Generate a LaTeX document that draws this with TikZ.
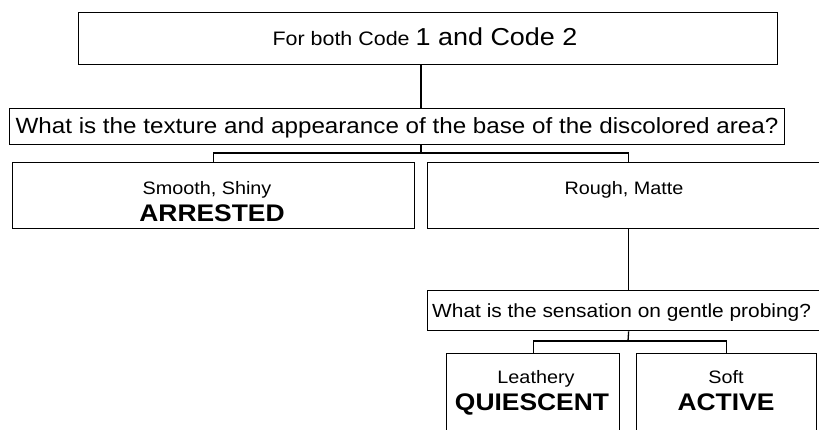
\documentclass[tikz,border=0pt]{standalone}
\usepackage{fontspec}
\setmainfont{Liberation Sans}[FakeStretch=1.1]
\begin{document}
\begin{tikzpicture}[x=1pt, y=-1pt,
    boxstyle/.style={draw, line width=1.3pt, anchor=north west, inner sep=0pt},
    txtstyle/.style={inner sep=0pt, anchor=base, font=\fontsize{18}{20}\selectfont},
    bigstyle/.style={inner sep=0pt, anchor=base, font=\fontsize{24}{26}\selectfont\bfseries},
    qstyle/.style={inner sep=0pt, font=\fontsize{22}{24}\selectfont},
    linestyle/.style={line width=1.3pt}]
\useasboundingbox (0,0) rectangle (819,430);
\clip (0,0) rectangle (819,430);

% boxes
\node[boxstyle, minimum width=699pt, minimum height=52pt] (top) at (78,12) {};
\node[boxstyle, minimum width=775pt, minimum height=36pt] (q1) at (9,108) {};
\node[boxstyle, minimum width=402pt, minimum height=66pt] (smooth) at (12,162) {};
\node[boxstyle, minimum width=402pt, minimum height=66pt] (rough) at (427,162) {};
\node[boxstyle, minimum width=402pt, minimum height=40pt] (q2) at (427,290) {};
\node[boxstyle, minimum width=173pt, minimum height=100pt] (leathery) at (446,353) {};
\node[boxstyle, minimum width=180pt, minimum height=100pt] (soft) at (636,353) {};

% texts
\node[txtstyle, font=\fontsize{19.5}{22}\selectfont] (toptxt) at (425,46) {For both Code {\fontsize{24.5}{26}\selectfont 1 and Code 2}};
\node[qstyle, anchor=base] (q1txt) at (397,134) {What is the texture and appearance of the base of the discolored area?};
\node[txtstyle] (smoothtxt) at (207,195) {Smooth, Shiny};
\node[bigstyle] (arrested) at (212,222) {ARRESTED};
\node[txtstyle] (roughtxt) at (624,195) {Rough, Matte};
\node[qstyle, anchor=base west, font=\fontsize{19}{22}\selectfont] (q2txt) at (432,317) {What is the sensation on gentle probing?};
\node[txtstyle] (leatherytxt) at (536,383) {Leathery};
\node[bigstyle] (quiescent) at (532,410) {QUIESCENT};
\node[txtstyle] (softtxt) at (726,383) {Soft};
\node[bigstyle] (active) at (726,410) {ACTIVE};

% connectors
\coordinate (j0) at (421,64);
\coordinate (j1) at (421,153);
\coordinate (j2) at (628,341);
\draw[linestyle] (top.south -| j0) -- (q1.north -| j0);
\draw[linestyle] (q1.south -| j1) -- (j1);
\draw[linestyle] (smooth.north) |- (j1) -| (rough.north);
\draw[linestyle] (rough.south) -- (q2.north);
\draw[linestyle] (q2.south) -- (j2);
\draw[linestyle] (leathery.north) |- (j2) -| (soft.north);
\end{tikzpicture}
\end{document}
